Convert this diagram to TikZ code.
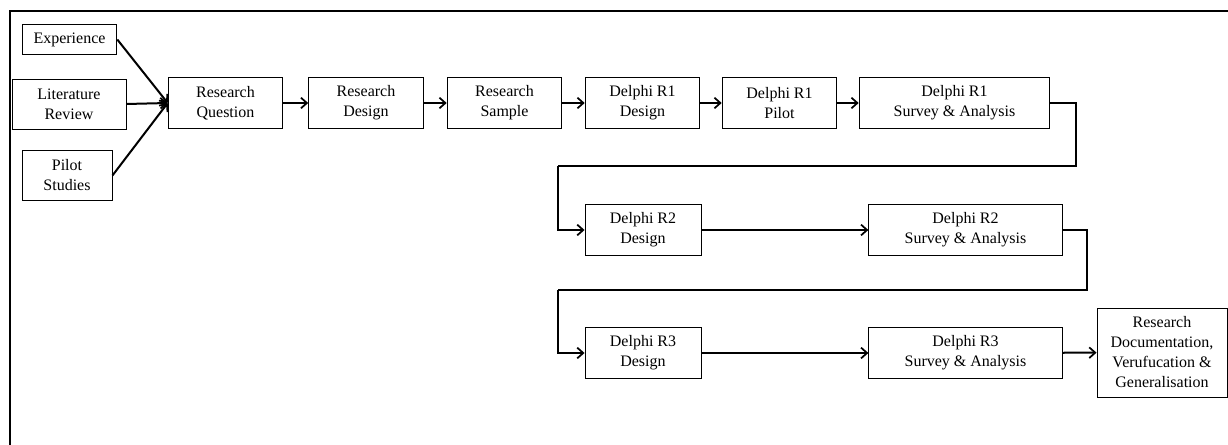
\documentclass[tikz,border=0pt]{standalone}
\usepackage{fontspec}
\setmainfont{Liberation Serif}
\usetikzlibrary{arrows.meta}

\tikzset{
  stage/.style={draw, line width=0.7pt, align=center, inner sep=1pt,
    minimum width=86pt, minimum height=38pt, font=\fontsize{12}{15}\selectfont},
  flow/.style={line width=1.5pt, -{Straight Barb[length=4.5pt,width=8pt,line width=1.3pt]}},
  link/.style={line width=1.5pt}
}

\begin{document}
\begin{tikzpicture}[x=0.75pt, y=-0.75pt]

\useasboundingbox (0,0) rectangle (1228,445);

% Frame (only top and left edges are in view)
\draw[line width=1.5pt] (10,445) -- (10,11) -- (1228,11);

% Sources
\coordinate (Exp) at (69.5,39.5);
\coordinate (Lit) at (69,104);
\coordinate (Pil) at (67,175.5);

% First row
\coordinate (RQ) at (225.5,103);
\coordinate (RD) at (366,103);
\coordinate (RS) at (504.5,103);
\coordinate (DoneD) at (642.5,103);
\coordinate (DoneP) at (779.5,103);
\coordinate (DoneS) at (954.5,103);

% Second and third rows
\coordinate (DtwoD) at (643,230);
\coordinate (DtwoS) at (965.5,230);
\coordinate (DthreeD) at (643,353);
\coordinate (DthreeS) at (965.5,353);
\coordinate (Doc) at (1162,352.5);

% Bends of the return lines
\coordinate (Kone) at (1076,166);
\coordinate (Ktwo) at (558,166);
\coordinate (Kthree) at (1087,290);
\coordinate (Kfour) at (558,290);

% Boxes
\node[stage, minimum width=71pt, minimum height=23pt] (exp) at (Exp) {Experience};
\node[stage, minimum width=85.5pt, minimum height=37.5pt] (lit) at (Lit) {Literature\\Review};
\node[stage, minimum width=67.5pt, minimum height=37pt] (pil) at (Pil) {Pilot\\Studies};
\node[stage] (rq) at (RQ) {Research\\Question};
\node[stage] (rd) at (RD) {Research\\Design};
\node[stage] (rs) at (RS) {Research\\Sample};
\node[stage] (d1d) at (DoneD) {Delphi R1\\Design};
\node[stage] (d1p) at (DoneP) {Delphi R1\\Pilot};
\node[stage, minimum width=143pt] (d1s) at (DoneS) {Delphi R1\\Survey \& Analysis};
\node[stage, minimum width=87pt] (d2d) at (DtwoD) {Delphi R2\\Design};
\node[stage, minimum width=145pt] (d2s) at (DtwoS) {Delphi R2\\Survey \& Analysis};
\node[stage, minimum width=87pt] (d3d) at (DthreeD) {Delphi R3\\Design};
\node[stage, minimum width=145pt] (d3s) at (DthreeS) {Delphi R3\\Survey \& Analysis};
\node[stage, minimum width=97.5pt, minimum height=66.75pt] (doc) at (Doc) {Research\\Documentation,\\Verufucation \&\\Generalisation};

% Into the research question
\draw[flow] (exp.east) -- (rq.west);
\draw[flow] (lit.east) -- (rq.west);
\draw[flow] (pil.east) -- (rq.west);

% First row
\draw[flow] (rq) -- (rd);
\draw[flow] (rd) -- (rs);
\draw[flow] (rs) -- (d1d);
\draw[flow] (d1d) -- (d1p);
\draw[flow] (d1p) -- (d1s);

% Round two
\draw[link] (d1s.east) -| (Kone) -- (Ktwo);
\draw[flow] (Ktwo) |- (d2d.west);
\draw[flow] (d2d) -- (d2s);

% Round three
\draw[link] (d2s.east) -| (Kthree) -- (Kfour);
\draw[flow] (Kfour) |- (d3d.west);
\draw[flow] (d3d) -- (d3s);
\draw[flow] (d3s) -- (doc);

\end{tikzpicture}
\end{document}
